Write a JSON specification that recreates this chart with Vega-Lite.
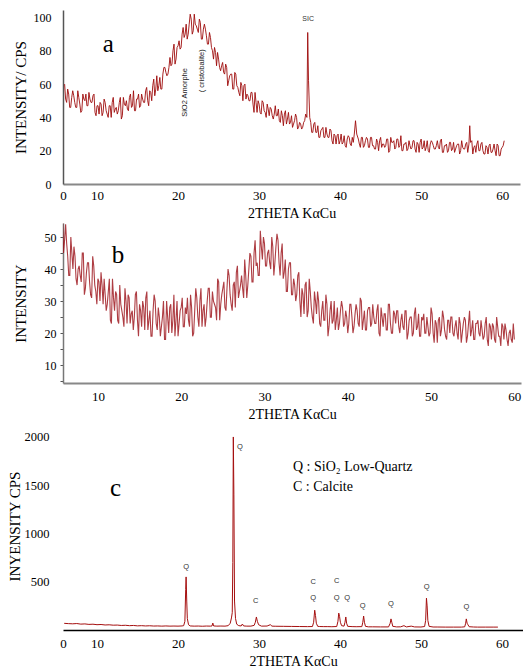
{
"$schema": "https://vega.github.io/schema/vega-lite/v6.json",
"background": "white",
"padding": {"left": 7, "top": 10, "right": 0, "bottom": 4},
"bounds": "flush",
"spacing": 39,
"config": {"view": {"stroke": null}, "axis": {"grid": false, "labelFont": "Liberation Serif", "titleFont": "Liberation Serif", "labelColor": "#000", "titleColor": "#000", "titleFontWeight": "normal", "labelOverlap": false, "labelFlush": false}},
"datasets": {
"a": [{"x":6,"y":60},{"x":6.125,"y":51},{"x":6.25,"y":49},{"x":6.375,"y":57},{"x":6.5,"y":54},{"x":6.625,"y":46},{"x":6.75,"y":46},{"x":6.875,"y":52},{"x":7,"y":56},{"x":7.125,"y":53},{"x":7.25,"y":49},{"x":7.375,"y":46},{"x":7.5,"y":46},{"x":7.625,"y":56},{"x":7.75,"y":52},{"x":7.875,"y":48},{"x":8,"y":43},{"x":8.125,"y":44},{"x":8.25,"y":54},{"x":8.375,"y":51},{"x":8.5,"y":50},{"x":8.625,"y":54},{"x":8.75,"y":47},{"x":8.875,"y":47},{"x":9,"y":55},{"x":9.125,"y":51},{"x":9.25,"y":49},{"x":9.375,"y":49},{"x":9.5,"y":53},{"x":9.625,"y":54},{"x":9.75,"y":43},{"x":9.875,"y":41},{"x":10,"y":47},{"x":10.125,"y":47},{"x":10.25,"y":42},{"x":10.375,"y":49},{"x":10.5,"y":48},{"x":10.625,"y":41},{"x":10.75,"y":43},{"x":10.875,"y":51},{"x":11,"y":49},{"x":11.125,"y":44},{"x":11.25,"y":42},{"x":11.375,"y":40},{"x":11.5,"y":47},{"x":11.625,"y":47},{"x":11.75,"y":40},{"x":11.875,"y":49},{"x":12,"y":52},{"x":12.125,"y":43},{"x":12.25,"y":45},{"x":12.375,"y":46},{"x":12.5,"y":42},{"x":12.625,"y":44},{"x":12.75,"y":49},{"x":12.875,"y":52},{"x":13,"y":39},{"x":13.125,"y":41},{"x":13.25,"y":52},{"x":13.375,"y":48},{"x":13.5,"y":47},{"x":13.625,"y":50},{"x":13.75,"y":45},{"x":13.875,"y":44},{"x":14,"y":52},{"x":14.125,"y":54},{"x":14.25,"y":46},{"x":14.375,"y":47},{"x":14.5,"y":56},{"x":14.625,"y":44},{"x":14.75,"y":44},{"x":14.875,"y":51},{"x":15,"y":51},{"x":15.125,"y":54},{"x":15.25,"y":46},{"x":15.375,"y":47},{"x":15.5,"y":54},{"x":15.625,"y":51},{"x":15.75,"y":49},{"x":15.875,"y":49},{"x":16,"y":56},{"x":16.125,"y":58},{"x":16.25,"y":50},{"x":16.375,"y":47},{"x":16.5,"y":56},{"x":16.625,"y":55},{"x":16.75,"y":50},{"x":16.875,"y":59},{"x":17,"y":63},{"x":17.125,"y":53},{"x":17.25,"y":57},{"x":17.375,"y":65},{"x":17.5,"y":56},{"x":17.625,"y":59},{"x":17.75,"y":64},{"x":17.875,"y":57},{"x":18,"y":57},{"x":18.125,"y":66},{"x":18.25,"y":70},{"x":18.375,"y":70},{"x":18.5,"y":67},{"x":18.625,"y":65},{"x":18.75,"y":66},{"x":18.875,"y":70},{"x":19,"y":76},{"x":19.125,"y":71},{"x":19.25,"y":72},{"x":19.375,"y":80},{"x":19.5,"y":84},{"x":19.625,"y":72},{"x":19.75,"y":75},{"x":19.875,"y":82},{"x":20,"y":83},{"x":20.125,"y":86},{"x":20.25,"y":81},{"x":20.375,"y":82},{"x":20.5,"y":90},{"x":20.625,"y":94},{"x":20.75,"y":88},{"x":20.875,"y":90},{"x":21,"y":96},{"x":21.125,"y":87},{"x":21.25,"y":90},{"x":21.375,"y":96},{"x":21.5,"y":102},{"x":21.625,"y":99},{"x":21.75,"y":90},{"x":21.875,"y":92},{"x":22,"y":102},{"x":22.125,"y":96},{"x":22.25,"y":95},{"x":22.375,"y":93},{"x":22.5,"y":91},{"x":22.625,"y":99},{"x":22.75,"y":97},{"x":22.875,"y":87},{"x":23,"y":87},{"x":23.125,"y":93},{"x":23.25,"y":96},{"x":23.375,"y":93},{"x":23.5,"y":89},{"x":23.625,"y":84},{"x":23.75,"y":84},{"x":23.875,"y":91},{"x":24,"y":88},{"x":24.125,"y":82},{"x":24.25,"y":80},{"x":24.375,"y":75},{"x":24.5,"y":82},{"x":24.625,"y":79},{"x":24.75,"y":71},{"x":24.875,"y":79},{"x":25,"y":75},{"x":25.125,"y":70},{"x":25.25,"y":68},{"x":25.375,"y":71},{"x":25.5,"y":73},{"x":25.625,"y":67},{"x":25.75,"y":66},{"x":25.875,"y":72},{"x":26,"y":70},{"x":26.125,"y":59},{"x":26.25,"y":62},{"x":26.375,"y":65},{"x":26.5,"y":66},{"x":26.625,"y":66},{"x":26.75,"y":57},{"x":26.875,"y":57},{"x":27,"y":67},{"x":27.125,"y":66},{"x":27.25,"y":59},{"x":27.375,"y":58},{"x":27.5,"y":55},{"x":27.625,"y":53},{"x":27.75,"y":61},{"x":27.875,"y":59},{"x":28,"y":50},{"x":28.125,"y":59},{"x":28.25,"y":60},{"x":28.375,"y":51},{"x":28.5,"y":54},{"x":28.625,"y":53},{"x":28.75,"y":50},{"x":28.875,"y":50},{"x":29,"y":55},{"x":29.125,"y":55},{"x":29.25,"y":48},{"x":29.375,"y":43},{"x":29.5,"y":55},{"x":29.625,"y":49},{"x":29.75,"y":43},{"x":29.875,"y":50},{"x":30,"y":48},{"x":30.125,"y":43},{"x":30.25,"y":42},{"x":30.375,"y":50},{"x":30.5,"y":49},{"x":30.625,"y":44},{"x":30.75,"y":43},{"x":30.875,"y":40},{"x":31,"y":48},{"x":31.125,"y":45},{"x":31.25,"y":41},{"x":31.375,"y":46},{"x":31.5,"y":45},{"x":31.625,"y":41},{"x":31.75,"y":39},{"x":31.875,"y":42},{"x":32,"y":47},{"x":32.125,"y":41},{"x":32.25,"y":41},{"x":32.375,"y":45},{"x":32.5,"y":38},{"x":32.625,"y":37},{"x":32.75,"y":44},{"x":32.875,"y":41},{"x":33,"y":35},{"x":33.125,"y":42},{"x":33.25,"y":44},{"x":33.375,"y":36},{"x":33.5,"y":39},{"x":33.625,"y":43},{"x":33.75,"y":36},{"x":33.875,"y":37},{"x":34,"y":41},{"x":34.125,"y":34},{"x":34.25,"y":36},{"x":34.375,"y":38},{"x":34.5,"y":42},{"x":34.625,"y":40},{"x":34.75,"y":33},{"x":34.875,"y":34},{"x":35,"y":37},{"x":35.125,"y":36},{"x":35.25,"y":33},{"x":35.375,"y":34},{"x":35.5,"y":37},{"x":35.625,"y":38},{"x":35.75,"y":42},{"x":35.9,"y":40},{"x":36,"y":91},{"x":36.1,"y":62},{"x":36.25,"y":40},{"x":36.375,"y":37},{"x":36.5,"y":31},{"x":36.625,"y":31},{"x":36.75,"y":36},{"x":36.875,"y":37},{"x":37,"y":31},{"x":37.125,"y":31},{"x":37.25,"y":35},{"x":37.375,"y":28},{"x":37.5,"y":28},{"x":37.625,"y":32},{"x":37.75,"y":33},{"x":37.875,"y":34},{"x":38,"y":28},{"x":38.125,"y":28},{"x":38.25,"y":34},{"x":38.375,"y":30},{"x":38.5,"y":28},{"x":38.625,"y":28},{"x":38.75,"y":33},{"x":38.875,"y":32},{"x":39,"y":26},{"x":39.125,"y":24},{"x":39.25,"y":30},{"x":39.375,"y":29},{"x":39.5,"y":24},{"x":39.625,"y":29},{"x":39.75,"y":30},{"x":39.875,"y":24},{"x":40,"y":26},{"x":40.125,"y":30},{"x":40.25,"y":24},{"x":40.375,"y":25},{"x":40.5,"y":29},{"x":40.625,"y":23},{"x":40.75,"y":22},{"x":40.875,"y":27},{"x":41,"y":29},{"x":41.125,"y":28},{"x":41.25,"y":24},{"x":41.375,"y":23},{"x":41.5,"y":28},{"x":41.625,"y":25},{"x":41.75,"y":30},{"x":41.9,"y":38},{"x":42.05,"y":30},{"x":42.25,"y":27},{"x":42.375,"y":24},{"x":42.5,"y":22},{"x":42.625,"y":28},{"x":42.75,"y":28},{"x":42.875,"y":22},{"x":43,"y":23},{"x":43.125,"y":26},{"x":43.25,"y":28},{"x":43.375,"y":27},{"x":43.5,"y":22},{"x":43.625,"y":22},{"x":43.75,"y":28},{"x":43.875,"y":28},{"x":44,"y":23},{"x":44.125,"y":23},{"x":44.25,"y":21},{"x":44.375,"y":21},{"x":44.5,"y":27},{"x":44.625,"y":25},{"x":44.75,"y":20},{"x":44.875,"y":26},{"x":45,"y":28},{"x":45.125,"y":22},{"x":45.25,"y":24},{"x":45.375,"y":24},{"x":45.5,"y":22},{"x":45.625,"y":23},{"x":45.75,"y":27},{"x":45.875,"y":27},{"x":46,"y":19},{"x":46.125,"y":20},{"x":46.25,"y":28},{"x":46.375,"y":25},{"x":46.5,"y":25},{"x":46.625,"y":26},{"x":46.75,"y":21},{"x":46.875,"y":22},{"x":47,"y":27},{"x":47.125,"y":27},{"x":47.25,"y":22},{"x":47.375,"y":23},{"x":47.5,"y":29},{"x":47.625,"y":20},{"x":47.75,"y":20},{"x":47.875,"y":24},{"x":48,"y":24},{"x":48.125,"y":25},{"x":48.25,"y":20},{"x":48.375,"y":21},{"x":48.5,"y":26},{"x":48.625,"y":23},{"x":48.75,"y":21},{"x":48.875,"y":22},{"x":49,"y":26},{"x":49.125,"y":26},{"x":49.25,"y":21},{"x":49.375,"y":19},{"x":49.5,"y":25},{"x":49.625,"y":24},{"x":49.75,"y":19},{"x":49.875,"y":25},{"x":50,"y":27},{"x":50.125,"y":21},{"x":50.25,"y":22},{"x":50.375,"y":26},{"x":50.5,"y":20},{"x":50.625,"y":22},{"x":50.75,"y":26},{"x":50.875,"y":20},{"x":51,"y":19},{"x":51.125,"y":24},{"x":51.25,"y":26},{"x":51.375,"y":25},{"x":51.5,"y":23},{"x":51.625,"y":21},{"x":51.75,"y":21},{"x":51.875,"y":23},{"x":52,"y":26},{"x":52.125,"y":22},{"x":52.25,"y":21},{"x":52.375,"y":26},{"x":52.5,"y":27},{"x":52.625,"y":19},{"x":52.75,"y":19},{"x":52.875,"y":23},{"x":53,"y":23},{"x":53.125,"y":24},{"x":53.25,"y":19},{"x":53.375,"y":20},{"x":53.5,"y":25},{"x":53.625,"y":25},{"x":53.75,"y":20},{"x":53.875,"y":21},{"x":54,"y":25},{"x":54.125,"y":19},{"x":54.25,"y":21},{"x":54.375,"y":23},{"x":54.5,"y":24},{"x":54.625,"y":24},{"x":54.75,"y":18},{"x":54.875,"y":20},{"x":55,"y":26},{"x":55.125,"y":22},{"x":55.25,"y":21},{"x":55.375,"y":21},{"x":55.5,"y":24},{"x":55.625,"y":25},{"x":55.75,"y":19},{"x":55.9,"y":24},{"x":56,"y":35},{"x":56.1,"y":25},{"x":56.25,"y":26},{"x":56.375,"y":18},{"x":56.5,"y":22},{"x":56.625,"y":23},{"x":56.75,"y":19},{"x":56.875,"y":24},{"x":57,"y":26},{"x":57.125,"y":20},{"x":57.25,"y":20},{"x":57.375,"y":24},{"x":57.5,"y":25},{"x":57.625,"y":20},{"x":57.75,"y":18},{"x":57.875,"y":18},{"x":58,"y":23},{"x":58.125,"y":22},{"x":58.25,"y":18},{"x":58.375,"y":23},{"x":58.5,"y":24},{"x":58.625,"y":19},{"x":58.75,"y":19},{"x":58.875,"y":21},{"x":59,"y":24},{"x":59.125,"y":20},{"x":59.25,"y":17},{"x":59.375,"y":24},{"x":59.5,"y":23},{"x":59.625,"y":17},{"x":59.75,"y":17},{"x":59.875,"y":21},{"x":60,"y":22},{"x":60.125,"y":23},{"x":60.25,"y":26}],
"b": [{"x":5.75,"y":56},{"x":5.875,"y":45},{"x":6,"y":49},{"x":6.125,"y":54},{"x":6.25,"y":48},{"x":6.375,"y":44},{"x":6.5,"y":38},{"x":6.625,"y":38},{"x":6.75,"y":50},{"x":6.875,"y":45},{"x":7,"y":40},{"x":7.125,"y":47},{"x":7.25,"y":44},{"x":7.375,"y":37},{"x":7.5,"y":35},{"x":7.625,"y":40},{"x":7.75,"y":41},{"x":7.875,"y":38},{"x":8,"y":36},{"x":8.125,"y":45},{"x":8.25,"y":45},{"x":8.375,"y":32},{"x":8.5,"y":34},{"x":8.625,"y":39},{"x":8.75,"y":42},{"x":8.875,"y":42},{"x":9,"y":36},{"x":9.125,"y":32},{"x":9.25,"y":31},{"x":9.375,"y":44},{"x":9.5,"y":41},{"x":9.625,"y":35},{"x":9.75,"y":33},{"x":9.875,"y":29},{"x":10,"y":37},{"x":10.125,"y":36},{"x":10.25,"y":30},{"x":10.375,"y":39},{"x":10.5,"y":35},{"x":10.625,"y":29},{"x":10.75,"y":37},{"x":10.875,"y":32},{"x":11,"y":27},{"x":11.125,"y":29},{"x":11.25,"y":33},{"x":11.375,"y":37},{"x":11.5,"y":24},{"x":11.625,"y":23},{"x":11.75,"y":37},{"x":11.875,"y":31},{"x":12,"y":27},{"x":12.125,"y":33},{"x":12.25,"y":32},{"x":12.375,"y":24},{"x":12.5,"y":23},{"x":12.625,"y":35},{"x":12.75,"y":29},{"x":12.875,"y":27},{"x":13,"y":25},{"x":13.125,"y":22},{"x":13.25,"y":34},{"x":13.375,"y":30},{"x":13.5,"y":23},{"x":13.625,"y":32},{"x":13.75,"y":31},{"x":13.875,"y":23},{"x":14,"y":26},{"x":14.125,"y":27},{"x":14.25,"y":21},{"x":14.375,"y":25},{"x":14.5,"y":32},{"x":14.625,"y":33},{"x":14.75,"y":24},{"x":14.875,"y":19},{"x":15,"y":29},{"x":15.125,"y":27},{"x":15.25,"y":22},{"x":15.375,"y":30},{"x":15.5,"y":28},{"x":15.625,"y":21},{"x":15.75,"y":31},{"x":15.875,"y":33},{"x":16,"y":21},{"x":16.125,"y":24},{"x":16.25,"y":27},{"x":16.375,"y":19},{"x":16.5,"y":19},{"x":16.625,"y":27},{"x":16.75,"y":32},{"x":16.875,"y":30},{"x":17,"y":23},{"x":17.125,"y":21},{"x":17.25,"y":28},{"x":17.375,"y":25},{"x":17.5,"y":19},{"x":17.625,"y":22},{"x":17.75,"y":25},{"x":17.875,"y":30},{"x":18,"y":18},{"x":18.125,"y":18},{"x":18.25,"y":30},{"x":18.375,"y":25},{"x":18.5,"y":20},{"x":18.625,"y":28},{"x":18.75,"y":29},{"x":18.875,"y":20},{"x":19,"y":24},{"x":19.125,"y":32},{"x":19.25,"y":19},{"x":19.375,"y":24},{"x":19.5,"y":30},{"x":19.625,"y":19},{"x":19.75,"y":23},{"x":19.875,"y":27},{"x":20,"y":28},{"x":20.125,"y":31},{"x":20.25,"y":22},{"x":20.375,"y":22},{"x":20.5,"y":28},{"x":20.625,"y":26},{"x":20.75,"y":31},{"x":20.875,"y":24},{"x":21,"y":22},{"x":21.125,"y":32},{"x":21.25,"y":28},{"x":21.375,"y":19},{"x":21.5,"y":20},{"x":21.625,"y":27},{"x":21.75,"y":34},{"x":21.875,"y":31},{"x":22,"y":25},{"x":22.125,"y":22},{"x":22.25,"y":30},{"x":22.375,"y":34},{"x":22.5,"y":22},{"x":22.625,"y":27},{"x":22.75,"y":29},{"x":22.875,"y":22},{"x":23,"y":25},{"x":23.125,"y":30},{"x":23.25,"y":34},{"x":23.375,"y":34},{"x":23.5,"y":25},{"x":23.625,"y":25},{"x":23.75,"y":33},{"x":23.875,"y":30},{"x":24,"y":29},{"x":24.125,"y":28},{"x":24.25,"y":24},{"x":24.375,"y":37},{"x":24.5,"y":36},{"x":24.625,"y":24},{"x":24.75,"y":29},{"x":24.875,"y":32},{"x":25,"y":34},{"x":25.125,"y":36},{"x":25.25,"y":28},{"x":25.375,"y":27},{"x":25.5,"y":34},{"x":25.625,"y":40},{"x":25.75,"y":38},{"x":25.875,"y":32},{"x":26,"y":29},{"x":26.125,"y":27},{"x":26.25,"y":35},{"x":26.375,"y":36},{"x":26.5,"y":28},{"x":26.625,"y":39},{"x":26.75,"y":41},{"x":26.875,"y":31},{"x":27,"y":33},{"x":27.125,"y":35},{"x":27.25,"y":38},{"x":27.375,"y":34},{"x":27.5,"y":31},{"x":27.625,"y":43},{"x":27.75,"y":38},{"x":27.875,"y":31},{"x":28,"y":35},{"x":28.125,"y":40},{"x":28.25,"y":45},{"x":28.375,"y":44},{"x":28.5,"y":36},{"x":28.625,"y":36},{"x":28.75,"y":45},{"x":28.875,"y":49},{"x":29,"y":41},{"x":29.125,"y":42},{"x":29.25,"y":38},{"x":29.375,"y":38},{"x":29.5,"y":52},{"x":29.625,"y":47},{"x":29.75,"y":43},{"x":29.875,"y":50},{"x":30,"y":48},{"x":30.125,"y":41},{"x":30.25,"y":41},{"x":30.375,"y":45},{"x":30.5,"y":46},{"x":30.625,"y":42},{"x":30.75,"y":40},{"x":30.875,"y":50},{"x":31,"y":47},{"x":31.125,"y":38},{"x":31.25,"y":42},{"x":31.375,"y":47},{"x":31.5,"y":51},{"x":31.625,"y":49},{"x":31.75,"y":42},{"x":31.875,"y":38},{"x":32,"y":45},{"x":32.125,"y":48},{"x":32.25,"y":37},{"x":32.375,"y":39},{"x":32.5,"y":43},{"x":32.625,"y":33},{"x":32.75,"y":33},{"x":32.875,"y":40},{"x":33,"y":42},{"x":33.125,"y":42},{"x":33.25,"y":32},{"x":33.375,"y":32},{"x":33.5,"y":37},{"x":33.625,"y":35},{"x":33.75,"y":30},{"x":33.875,"y":32},{"x":34,"y":38},{"x":34.125,"y":39},{"x":34.25,"y":30},{"x":34.375,"y":25},{"x":34.5,"y":34},{"x":34.625,"y":32},{"x":34.75,"y":26},{"x":34.875,"y":35},{"x":35,"y":36},{"x":35.125,"y":25},{"x":35.25,"y":27},{"x":35.375,"y":37},{"x":35.5,"y":33},{"x":35.625,"y":28},{"x":35.75,"y":25},{"x":35.875,"y":23},{"x":36,"y":33},{"x":36.125,"y":30},{"x":36.25,"y":26},{"x":36.375,"y":33},{"x":36.5,"y":30},{"x":36.625,"y":23},{"x":36.75,"y":22},{"x":36.875,"y":27},{"x":37,"y":30},{"x":37.125,"y":24},{"x":37.25,"y":24},{"x":37.375,"y":32},{"x":37.5,"y":29},{"x":37.625,"y":19},{"x":37.75,"y":22},{"x":37.875,"y":27},{"x":38,"y":30},{"x":38.125,"y":23},{"x":38.25,"y":24},{"x":38.375,"y":30},{"x":38.5,"y":21},{"x":38.625,"y":24},{"x":38.75,"y":28},{"x":38.875,"y":21},{"x":39,"y":23},{"x":39.125,"y":27},{"x":39.25,"y":30},{"x":39.375,"y":28},{"x":39.5,"y":22},{"x":39.625,"y":23},{"x":39.75,"y":27},{"x":39.875,"y":25},{"x":40,"y":20},{"x":40.125,"y":23},{"x":40.25,"y":29},{"x":40.375,"y":29},{"x":40.5,"y":25},{"x":40.625,"y":20},{"x":40.75,"y":22},{"x":40.875,"y":26},{"x":41,"y":29},{"x":41.125,"y":27},{"x":41.25,"y":23},{"x":41.375,"y":22},{"x":41.5,"y":31},{"x":41.625,"y":30},{"x":41.75,"y":21},{"x":41.875,"y":24},{"x":42,"y":27},{"x":42.125,"y":21},{"x":42.25,"y":21},{"x":42.375,"y":27},{"x":42.5,"y":28},{"x":42.625,"y":28},{"x":42.75,"y":22},{"x":42.875,"y":23},{"x":43,"y":29},{"x":43.125,"y":25},{"x":43.25,"y":23},{"x":43.375,"y":23},{"x":43.5,"y":27},{"x":43.625,"y":29},{"x":43.75,"y":20},{"x":43.875,"y":19},{"x":44,"y":28},{"x":44.125,"y":25},{"x":44.25,"y":22},{"x":44.375,"y":26},{"x":44.5,"y":26},{"x":44.625,"y":21},{"x":44.75,"y":21},{"x":44.875,"y":29},{"x":45,"y":29},{"x":45.125,"y":23},{"x":45.25,"y":20},{"x":45.375,"y":20},{"x":45.5,"y":27},{"x":45.625,"y":26},{"x":45.75,"y":23},{"x":45.875,"y":27},{"x":46,"y":27},{"x":46.125,"y":22},{"x":46.25,"y":20},{"x":46.375,"y":24},{"x":46.5,"y":26},{"x":46.625,"y":22},{"x":46.75,"y":21},{"x":46.875,"y":27},{"x":47,"y":27},{"x":47.125,"y":18},{"x":47.25,"y":20},{"x":47.375,"y":24},{"x":47.5,"y":25},{"x":47.625,"y":25},{"x":47.75,"y":19},{"x":47.875,"y":20},{"x":48,"y":26},{"x":48.125,"y":28},{"x":48.25,"y":21},{"x":48.375,"y":22},{"x":48.5,"y":26},{"x":48.625,"y":19},{"x":48.75,"y":19},{"x":48.875,"y":25},{"x":49,"y":24},{"x":49.125,"y":26},{"x":49.25,"y":20},{"x":49.375,"y":20},{"x":49.5,"y":25},{"x":49.625,"y":22},{"x":49.75,"y":19},{"x":49.875,"y":20},{"x":50,"y":28},{"x":50.125,"y":26},{"x":50.25,"y":20},{"x":50.375,"y":17},{"x":50.5,"y":24},{"x":50.625,"y":23},{"x":50.75,"y":17},{"x":50.875,"y":24},{"x":51,"y":25},{"x":51.125,"y":19},{"x":51.25,"y":21},{"x":51.375,"y":27},{"x":51.5,"y":25},{"x":51.625,"y":21},{"x":51.75,"y":19},{"x":51.875,"y":18},{"x":52,"y":24},{"x":52.125,"y":24},{"x":52.25,"y":20},{"x":52.375,"y":25},{"x":52.5,"y":25},{"x":52.625,"y":20},{"x":52.75,"y":19},{"x":52.875,"y":22},{"x":53,"y":24},{"x":53.125,"y":20},{"x":53.25,"y":18},{"x":53.375,"y":25},{"x":53.5,"y":23},{"x":53.625,"y":17},{"x":53.75,"y":20},{"x":53.875,"y":23},{"x":54,"y":25},{"x":54.125,"y":24},{"x":54.25,"y":17},{"x":54.375,"y":19},{"x":54.5,"y":23},{"x":54.625,"y":27},{"x":54.75,"y":19},{"x":54.875,"y":21},{"x":55,"y":24},{"x":55.125,"y":18},{"x":55.25,"y":18},{"x":55.375,"y":23},{"x":55.5,"y":23},{"x":55.625,"y":24},{"x":55.75,"y":20},{"x":55.875,"y":19},{"x":56,"y":24},{"x":56.125,"y":21},{"x":56.25,"y":18},{"x":56.375,"y":19},{"x":56.5,"y":23},{"x":56.625,"y":25},{"x":56.75,"y":18},{"x":56.875,"y":16},{"x":57,"y":23},{"x":57.125,"y":22},{"x":57.25,"y":18},{"x":57.375,"y":23},{"x":57.5,"y":22},{"x":57.625,"y":18},{"x":57.75,"y":17},{"x":57.875,"y":25},{"x":58,"y":22},{"x":58.125,"y":19},{"x":58.25,"y":19},{"x":58.375,"y":16},{"x":58.5,"y":23},{"x":58.625,"y":22},{"x":58.75,"y":18},{"x":58.875,"y":23},{"x":59,"y":21},{"x":59.125,"y":18},{"x":59.25,"y":16},{"x":59.375,"y":20},{"x":59.5,"y":21},{"x":59.625,"y":18},{"x":59.75,"y":17},{"x":59.875,"y":23},{"x":60,"y":18}],
"c": [{"x":5.95,"y":69},{"x":6.5,"y":66},{"x":7,"y":64},{"x":7.5,"y":67},{"x":8,"y":61},{"x":8.5,"y":63},{"x":9,"y":58},{"x":9.5,"y":60},{"x":10,"y":55},{"x":10.5,"y":57},{"x":11,"y":52},{"x":11.5,"y":54},{"x":12,"y":50},{"x":12.5,"y":51},{"x":13,"y":47},{"x":13.5,"y":49},{"x":14,"y":45},{"x":14.5,"y":47},{"x":15,"y":43},{"x":15.5,"y":45},{"x":16,"y":42},{"x":16.5,"y":44},{"x":17,"y":41},{"x":17.5,"y":42},{"x":18,"y":40},{"x":18.5,"y":42},{"x":19,"y":40},{"x":19.5,"y":41},{"x":20,"y":40},{"x":20.5,"y":42},{"x":20.7,"y":45},{"x":20.85,"y":90},{"x":20.95,"y":420},{"x":21,"y":550},{"x":21.08,"y":300},{"x":21.15,"y":120},{"x":21.3,"y":55},{"x":21.5,"y":42},{"x":22,"y":40},{"x":22.5,"y":41},{"x":23,"y":39},{"x":23.5,"y":41},{"x":24,"y":40},{"x":24.2,"y":42},{"x":24.3,"y":72},{"x":24.4,"y":42},{"x":24.8,"y":40},{"x":25.3,"y":41},{"x":25.8,"y":40},{"x":26.2,"y":45},{"x":26.45,"y":70},{"x":26.6,"y":125},{"x":26.7,"y":180},{"x":26.77,"y":700},{"x":26.83,"y":2000},{"x":26.9,"y":1400},{"x":26.98,"y":300},{"x":27.1,"y":120},{"x":27.25,"y":60},{"x":27.5,"y":45},{"x":27.8,"y":42},{"x":27.95,"y":62},{"x":28.1,"y":42},{"x":28.5,"y":40},{"x":29,"y":40},{"x":29.4,"y":48},{"x":29.55,"y":80},{"x":29.68,"y":135},{"x":29.8,"y":90},{"x":29.95,"y":55},{"x":30.3,"y":40},{"x":31,"y":41},{"x":31.4,"y":55},{"x":31.6,"y":40},{"x":32,"y":39},{"x":33,"y":38},{"x":34,"y":37},{"x":35,"y":36},{"x":36,"y":35},{"x":36.6,"y":36},{"x":36.75,"y":80},{"x":36.88,"y":205},{"x":36.98,"y":150},{"x":37.08,"y":70},{"x":37.25,"y":38},{"x":37.5,"y":36},{"x":38,"y":35},{"x":38.5,"y":35},{"x":39,"y":34},{"x":39.6,"y":36},{"x":39.75,"y":90},{"x":39.85,"y":175},{"x":39.95,"y":140},{"x":40.05,"y":80},{"x":40.2,"y":45},{"x":40.5,"y":40},{"x":40.62,"y":80},{"x":40.72,"y":135},{"x":40.82,"y":70},{"x":40.95,"y":38},{"x":41.5,"y":35},{"x":42,"y":34},{"x":42.7,"y":35},{"x":42.82,"y":80},{"x":42.92,"y":145},{"x":43.02,"y":80},{"x":43.15,"y":38},{"x":43.5,"y":33},{"x":44,"y":33},{"x":45,"y":32},{"x":46,"y":32},{"x":46.2,"y":70},{"x":46.3,"y":115},{"x":46.4,"y":80},{"x":46.52,"y":38},{"x":47,"y":32},{"x":47.5,"y":33},{"x":47.9,"y":45},{"x":48.2,"y":32},{"x":48.8,"y":40},{"x":49.2,"y":32},{"x":50,"y":31},{"x":50.45,"y":36},{"x":50.58,"y":100},{"x":50.68,"y":330},{"x":50.76,"y":250},{"x":50.85,"y":100},{"x":51,"y":38},{"x":51.5,"y":31},{"x":52,"y":31},{"x":53,"y":30},{"x":54,"y":30},{"x":55,"y":30},{"x":55.4,"y":33},{"x":55.52,"y":70},{"x":55.6,"y":115},{"x":55.7,"y":70},{"x":55.8,"y":55},{"x":55.95,"y":34},{"x":56.5,"y":31},{"x":57,"y":30},{"x":58,"y":30},{"x":59,"y":30},{"x":59.5,"y":30}]
},
"vconcat": [
{
"width": 457, "height": 174,
"layer": [
{"data": {"name": "a"}, "mark": {"type": "line", "color": "#9e0b0b", "strokeWidth": 0.9, "clip": true},
 "encoding": {
  "x": {"field": "x", "type": "quantitative", "scale": {"domain": [5.8, 62.2], "nice": false, "zero": false},
   "axis": {"values": [5.8,10,20,30,40,50,60], "tickCount": 30, "labelExpr": "datum.value < 6 ? '0' : datum.label", "labelOverlap": false, "title": "2THETA  KαCu", "ticks": false, "domainColor": "#888", "domainWidth": 2, "labelFontSize": 13, "labelPadding": 5, "titleFontSize": 14, "titlePadding": 4}},
  "y": {"field": "y", "type": "quantitative", "scale": {"domain": [0, 104.5], "nice": false},
   "axis": {"values": [0,20,40,60,80,100], "tickCount": 30, "labelOverlap": false, "title": "INTENSITY/ CPS", "ticks": false, "domainColor": "#555", "domainWidth": 1.5, "labelFontSize": 12, "labelPadding": 12, "titleFontSize": 15, "titlePadding": 5}}
 }},
{"data": {"values": [{"x": 11.4, "y": 84, "label": "a"}]}, "mark": {"type": "text", "font": "Liberation Serif", "fontSize": 25, "align": "center", "baseline": "middle", "color": "#000"},
 "encoding": {"x": {"field": "x", "type": "quantitative"}, "y": {"field": "y", "type": "quantitative"}, "text": {"field": "label"}}},
{"data": {"values": [{"x": 36.05, "y": 99, "label": "SIC"}]}, "mark": {"type": "text", "font": "Liberation Sans", "fontSize": 7, "align": "center", "baseline": "middle", "color": "#333"},
 "encoding": {"x": {"field": "x", "type": "quantitative"}, "y": {"field": "y", "type": "quantitative"}, "text": {"field": "label"}}},
{"data": {"values": [{"x": 20.9, "y": 55, "label": "SiO2 Amorphe"}, {"x": 23.0, "y": 68, "label": "( cristobalite)"}]}, "mark": {"type": "text", "font": "Liberation Sans", "fontSize": 7.5, "angle": 270, "align": "center", "baseline": "middle", "color": "#222"},
 "encoding": {"x": {"field": "x", "type": "quantitative"}, "y": {"field": "y", "type": "quantitative"}, "text": {"field": "label"}}}
]
},
{
"width": 458, "height": 160,
"layer": [
{"data": {"name": "b"}, "mark": {"type": "line", "color": "#9a0c14", "strokeWidth": 1.1, "opacity": 0.8, "clip": true},
 "encoding": {
  "x": {"field": "x", "type": "quantitative", "scale": {"domain": [5.81, 60.8], "nice": false, "zero": false},
   "axis": {"values": [10,20,30,40,50,60], "tickCount": 30, "labelOverlap": false, "title": "2THETA  KαCu", "ticks": false, "domainColor": "#888", "domainWidth": 2, "labelFontSize": 13, "labelPadding": 7, "titleFontSize": 14, "titlePadding": 4}},
  "y": {"field": "y", "type": "quantitative", "scale": {"domain": [4.4, 54.4], "nice": false, "zero": false},
   "axis": {"values": [5,10,15,20,25,30,35,40,45,50], "tickCount": 30, "labelExpr": "datum.value % 10 == 0 ? datum.label : ''", "labelOverlap": false, "title": "INTENSITY", "ticks": true, "tickSize": 3, "tickColor": "#555", "domainColor": "#777", "domainWidth": 1.5, "labelFontSize": 12, "labelPadding": 4, "titleFontSize": 15, "titlePadding": 16}}
 }},
{"data": {"values": [{"x": 12.4, "y": 44.4, "label": "b"}]}, "mark": {"type": "text", "font": "Liberation Serif", "fontSize": 25, "align": "center", "baseline": "middle", "color": "#000"},
 "encoding": {"x": {"field": "x", "type": "quantitative"}, "y": {"field": "y", "type": "quantitative"}, "text": {"field": "label"}}}
]
},
{
"width": 460, "height": 208,
"layer": [
{"data": {"name": "c"}, "mark": {"type": "line", "color": "#a50f0f", "strokeWidth": 1, "clip": true},
 "encoding": {
  "x": {"field": "x", "type": "quantitative", "scale": {"domain": [5.8, 62.6], "nice": false, "zero": false},
   "axis": {"values": [5.8,10,20,30,40,50,60], "tickCount": 30, "labelExpr": "datum.value < 6 ? '0' : datum.label", "labelOverlap": false, "title": "2THETA  KαCu", "ticks": false, "domainColor": "#000", "domainWidth": 1.5, "labelFontSize": 13, "labelPadding": 7, "titleFontSize": 14, "titlePadding": 4}},
  "y": {"field": "y", "type": "quantitative", "scale": {"domain": [0, 2155], "nice": false},
   "axis": {"values": [500,1000,1500,2000], "tickCount": 30, "format": "d", "labelOverlap": false, "title": "INYENSITY  CPS", "ticks": false, "domain": false, "labelFontSize": 12.5, "labelPadding": 14, "titleFontSize": 15, "titlePadding": 2}}
 }},
{"mark": {"type": "rule", "color": "#000", "strokeWidth": 1.2},
 "encoding": {"x": {"datum": 5.8, "type": "quantitative"}, "y": {"datum": 0, "type": "quantitative"}, "y2": {"datum": 2000}}},
{"data": {"values": [{"x": 21.0, "y": 650, "label": "Q"}, {"x": 27.65, "y": 1900, "label": "Q"}, {"x": 29.6, "y": 300, "label": "C"}, {"x": 36.7, "y": 500, "label": "C"}, {"x": 36.7, "y": 330, "label": "Q"}, {"x": 39.6, "y": 505, "label": "C"}, {"x": 39.6, "y": 330, "label": "Q"}, {"x": 40.9, "y": 330, "label": "Q"}, {"x": 42.8, "y": 250, "label": "Q"}, {"x": 46.3, "y": 270, "label": "Q"}, {"x": 50.7, "y": 445, "label": "Q"}, {"x": 55.6, "y": 240, "label": "Q"}]},
 "mark": {"type": "text", "font": "Liberation Sans", "fontSize": 7.5, "align": "center", "baseline": "middle", "color": "#333"},
 "encoding": {"x": {"field": "x", "type": "quantitative"}, "y": {"field": "y", "type": "quantitative"}, "text": {"field": "label"}}},
{"data": {"values": [{"x": 34.2, "y": 1687, "label": "Q : SiO₂ Low-Quartz"}, {"x": 34.2, "y": 1480, "label": "C : Calcite"}]},
 "mark": {"type": "text", "font": "Liberation Serif", "fontSize": 14, "align": "left", "baseline": "middle", "color": "#000"},
 "encoding": {"x": {"field": "x", "type": "quantitative"}, "y": {"field": "y", "type": "quantitative"}, "text": {"field": "label"}}},
{"data": {"values": [{"x": 12.3, "y": 1470, "label": "c"}]}, "mark": {"type": "text", "font": "Liberation Serif", "fontSize": 25, "align": "center", "baseline": "middle", "color": "#000"},
 "encoding": {"x": {"field": "x", "type": "quantitative"}, "y": {"field": "y", "type": "quantitative"}, "text": {"field": "label"}}}
]
}
]
}
